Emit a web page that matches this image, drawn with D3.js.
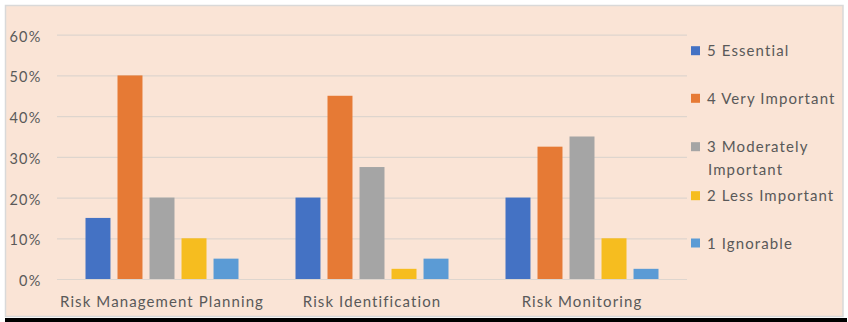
<!DOCTYPE html>
<html>
<head>
<meta charset="utf-8">
<script src="https://cdn.jsdelivr.net/npm/d3@7"></script>
<style>
  html, body { margin: 0; padding: 0; background: #ffffff; }
  svg { display: block; }
  text { font-family: Lato, "Open Sans", sans-serif; fill: #595959; }
</style>
</head>
<body>
<svg id="chart" width="848" height="322"></svg>
<script>
// Survey: importance of each risk-management activity (share of respondents)
const categories = ["Risk Management Planning", "Risk Identification", "Risk Monitoring"];
const series = ["5 Essential", "4 Very Important", "3 Moderately Important", "2 Less Important", "1 Ignorable"];
const essential     = [15, 20, 20];
const veryImportant = [50, 45, 32.5];
const moderately    = [20, 27.5, 35];
const lessImportant = [10, 2.5, 10];
const ignorable     = [5, 5, 2.5];
const seriesValues = [essential, veryImportant, moderately, lessImportant, ignorable];
const colors = ["#4472C4", "#E67A35", "#A5A5A5", "#F6BD1F", "#5B9BD5"];
const yTicks = [0, 10, 20, 30, 40, 50, 60];
const legendLines = [["5 Essential"], ["4 Very Important"], ["3 Moderately", "Important"], ["2 Less Important"], ["1 Ignorable"]];

const svg = d3.select("#chart");
const FONT = "Lato, 'Open Sans', sans-serif";

// chart panel
svg.append("rect").attr("x", 5.5).attr("y", 5.5).attr("width", 837.5).attr("height", 311)
  .attr("fill", "#FAE4D6").attr("stroke", "#D9D9D9").attr("stroke-width", 1.5);
// rule under the panel
svg.append("rect").attr("x", 5).attr("y", 318).attr("width", 842).attr("height", 4).attr("fill", "#000");

const plot = { left: 57, right: 687, top: 34.7, bottom: 279 };

const y = d3.scaleLinear().domain([0, 60]).range([plot.bottom, plot.top]);
const x0 = d3.scaleBand().domain(categories).range([plot.left, plot.right]).padding(0);
const groupW = 153;
const x1 = d3.scaleBand().domain(series)
  .range([(x0.bandwidth() - groupW) / 2, (x0.bandwidth() + groupW) / 2])
  .paddingInner(0.22).paddingOuter(0);

// gridlines and y labels
const yAxis = d3.axisLeft(y).tickValues(yTicks).tickFormat(d => d + "%")
  .tickSize(-(plot.right - plot.left)).tickPadding(15.5);
const gy = svg.append("g").attr("transform", `translate(${plot.left},0)`).call(yAxis);
gy.select(".domain").remove();
gy.selectAll(".tick line").attr("stroke", "#DED5CE").attr("stroke-width", 1.2);
gy.selectAll(".tick text").attr("font-size", 14.5).attr("fill", "#595959")
  .attr("dy", "0.45em").attr("letter-spacing", 1.2)
  .style("font-family", FONT);

// bars
const groups = svg.append("g").selectAll("g").data(categories).join("g")
  .attr("transform", d => `translate(${x0(d)},0)`);
groups.selectAll("rect")
  .data((c, ci) => series.map((s, si) => ({ s, si, v: seriesValues[si][ci] })))
  .join("rect")
  .attr("x", d => x1(d.s))
  .attr("width", x1.bandwidth())
  .attr("y", d => y(d.v))
  .attr("height", d => y(0) - y(d.v))
  .attr("fill", d => colors[d.si]);

// category labels
const xAxis = d3.axisBottom(x0).tickSize(0);
const gx = svg.append("g").attr("transform", `translate(0,${plot.bottom})`).call(xAxis);
gx.select(".domain").remove();
gx.selectAll(".tick text").attr("font-size", 15).attr("fill", "#595959")
  .attr("y", 28.3).attr("dy", 0).attr("letter-spacing", 1.1)
  .style("font-family", FONT);

// legend
const legendY = [50.7, 98.3, 146.7, 195.7, 243];
const leg = svg.append("g").selectAll("g").data(series).join("g")
  .attr("transform", (d, i) => `translate(691,${legendY[i]})`);
leg.append("rect").attr("x", 0).attr("y", -4.5).attr("width", 9).attr("height", 9)
  .attr("fill", (d, i) => colors[i]);
leg.each(function (d, i) {
  const t = d3.select(this).append("text").attr("x", 16).attr("y", 5.6)
    .attr("font-size", 15).attr("letter-spacing", 1.1);
  legendLines[i].forEach((line, li) => {
    t.append("tspan").attr("x", li === 0 ? 16 : 17).attr("dy", li === 0 ? 0 : 23).text(line);
  });
});
</script>
</body>
</html>
